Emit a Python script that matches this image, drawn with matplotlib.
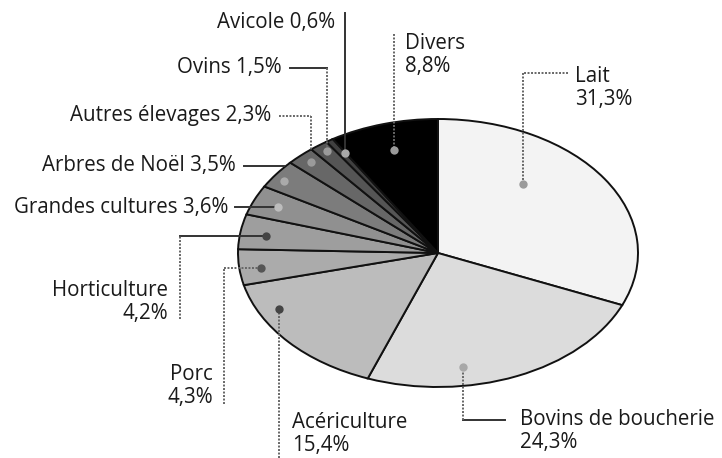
import numpy as np
import matplotlib.pyplot as plt

plt.rcParams['font.family'] = ['Open Sans', 'DejaVu Sans']

# valeurs (ordre horaire depuis midi)
categories = ["Lait", "Bovins de boucherie", "Acériculture", "Porc", "Horticulture",
              "Grandes cultures", "Arbres de Noël", "Autres élevages", "Ovins", "Avicole", "Divers"]
shares = [31.3, 24.3, 15.4, 4.3, 4.2, 3.6, 3.5, 2.3, 1.5, 0.6, 8.8]
share_labels = ["31,3%", "24,3%", "15,4%", "4,3%", "4,2%", "3,6%", "3,5%", "2,3%", "1,5%", "0,6%", "8,8%"]

fills = ['#f3f3f3', '#dcdcdc', '#bcbcbc', '#ababab', '#9e9e9e', '#909090',
         '#7c7c7c', '#676767', '#555555', '#404040', '#000000']
dot_colors = ['#9a9a9a', '#a8a8a8', '#444444', '#555555', '#444444', '#bdbdbd',
              '#aaaaaa', '#9a9a9a', '#9a9a9a', '#a8a8a8', '#9a9a9a']

# position du point dans la part : fraction de l'angle, fraction du rayon
dot_frac = [0.35, 0.67, 0.75, 0.43, 0.46, 0.5, 0.4, 0.55, 0.6, 0.85, 0.5]
dot_rad = [0.67, 0.86, 0.9, 0.89, 0.87, 0.87, 0.94, 0.93, 0.94, 0.88, 0.8]

# etiquettes en pixels : x, y, ha, deux lignes ?
label_pos = [(575, 88, 'left', True), (520, 431, 'left', True), (292, 434, 'left', True),
             (213, 386, 'right', True), (168, 302, 'right', True), (228, 208, 'right', False),
             (236, 166, 'right', False), (271, 116, 'right', False), (282, 68, 'right', False),
             (335, 22, 'right', False), (405, 55, 'left', True)]
# depart du trait de rappel (None = x/y du point), mode, style horizontal, style vertical
leader = [((568, 73), 'hv', 'dot', 'dot'), ((505, 420), 'hv', 'solid', 'dot'),
          ((None, 458), 'hv', None, 'dot'), ((224, 404), 'vh', 'dot', 'dot'),
          ((180, 319), 'vh', 'solid', 'dot'), ((235, None), 'hv', 'solid', None),
          ((244, 166), 'hv', 'solid', None), ((279, 116), 'hv', 'dot', 'dot'),
          ((290, 68), 'hv', 'solid', 'dot'), ((None, 13), 'hv', None, 'solid'),
          ((None, 34), 'hv', None, 'dot')]

CX, CY, RX, RY = 438, 253, 200, 134


def to_data(px, py):
    return (px - CX) / RX, (CY - py) / RY


fig = plt.figure(figsize=(7.22, 4.58), dpi=100)
ax = fig.add_axes([0, 0, 1, 1])
ax.pie(shares, colors=fills, startangle=90, counterclock=False, radius=1,
       wedgeprops=dict(edgecolor='#111111', linewidth=1.4))
ax.set_aspect('auto')
ax.set_xlim(to_data(0, 0)[0], to_data(722, 0)[0])
ax.set_ylim(to_data(0, 458)[1], to_data(0, 0)[1])
ax.axis('off')

total = sum(shares)
cum = np.concatenate([[0], np.cumsum(shares)]) / total * 360
styles = {'dot': dict(color='#666666', lw=1.4, ls=(0, (1, 0.8))),
          'solid': dict(color='#333333', lw=1.4, ls='-')}

for i, cat in enumerate(categories):
    a0 = 90 - cum[i]
    a1 = 90 - cum[i + 1]
    ang = np.radians(a0 + (a1 - a0) * dot_frac[i])
    dx, dy = dot_rad[i] * np.cos(ang), dot_rad[i] * np.sin(ang)
    dpx, dpy = CX + RX * dx, CY - RY * dy

    (sx, sy), mode, sh, sv = leader[i]
    sx = dpx if sx is None else sx
    sy = dpy if sy is None else sy
    if mode == 'hv':
        seg_h = [(sx, sy), (dpx, sy)]
        seg_v = [(dpx, sy), (dpx, dpy)]
    else:
        seg_v = [(sx, sy), (sx, dpy)]
        seg_h = [(sx, dpy), (dpx, dpy)]
    for seg, st in ((seg_h, sh), (seg_v, sv)):
        if st is None:
            continue
        pts = [to_data(*p) for p in seg]
        ax.plot([pts[0][0], pts[1][0]], [pts[0][1], pts[1][1]], zorder=3, **styles[st])

    ax.plot(dx, dy, 'o', color=dot_colors[i], markersize=6, markeredgewidth=0, zorder=4)

    tx, ty, ha, two = label_pos[i]
    txt = cat + "\n" + share_labels[i] if two else cat + " " + share_labels[i]
    ax.text(*to_data(tx, ty), txt, ha=ha, va='center', fontsize=14.8, color='#1a1a1a',
            linespacing=1.1, multialignment=ha)

fig.savefig("out.png", dpi=100)
